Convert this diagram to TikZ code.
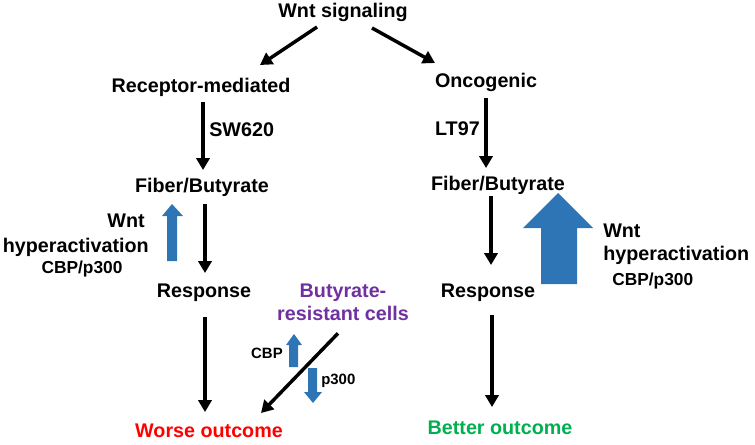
\documentclass[tikz,border=0pt]{standalone}
\usepackage{fontspec}
\setmainfont{Liberation Sans}
\usetikzlibrary{arrows.meta}
\definecolor{wblue}{RGB}{46,117,182}
\definecolor{wpurple}{RGB}{112,48,160}
\definecolor{wred}{RGB}{255,0,0}
\definecolor{wgreen}{RGB}{0,176,80}
\tikzset{
  lbl/.style={inner sep=0pt, font=\bfseries\fontsize{14.8}{17.25}\selectfont, anchor=base},
  small/.style={inner sep=0pt, font=\bfseries\fontsize{13}{15}\selectfont, anchor=base},
  tiny/.style={inner sep=0pt, font=\bfseries\fontsize{11.2}{13}\selectfont, anchor=base},
  arr/.style={line width=2.6pt, -{Triangle[width=10pt,length=9pt]}},
  bluearrow/.style={fill=wblue, draw=none}
}
\begin{document}
\begin{tikzpicture}[x=0.75pt,y=-0.75pt]
\useasboundingbox (0,0) rectangle (755,444);
% nodes
\node[lbl] (wnt) at (343,17) {Wnt signaling};
\node[lbl] (rec) at (201,92) {Receptor-mediated};
\node[lbl] (onc) at (486,87) {Oncogenic};
\node[lbl] (fbL) at (202,192) {Fiber/Butyrate};
\node[lbl] (fbR) at (498,190) {Fiber/Butyrate};
\node[lbl] (respL) at (204,297) {Response};
\node[lbl] (respR) at (488,297) {Response};
\node[lbl, text=wred] (worse) at (209,437) {Worse outcome};
\node[lbl, text=wgreen] (better) at (500,434) {Better outcome};
\node[lbl, anchor=base west] (sw) at (209,136) {SW620};
\node[lbl, anchor=base east] (lt) at (480,135) {LT97};
% left Wnt hyperactivation
\node[lbl, anchor=base east] (wntL) at (145,227) {Wnt};
\node[lbl, anchor=base east] (hypL) at (149,252) {hyperactivation};
\node[small] (cbpL) at (82,273) {CBP/p300};
% right Wnt hyperactivation
\node[lbl, anchor=base west] (wntR) at (603,237) {Wnt};
\node[lbl, anchor=base west] (hypR) at (603,260) {hyperactivation};
\node[small, anchor=base west] (cbpR) at (612,285) {CBP/p300};
% butyrate-resistant
\node[lbl, anchor=north, align=center, text=wpurple] (bres) at (343,284) {Butyrate-\\resistant cells};
\node[tiny, anchor=base east] (cbpS) at (283,358) {CBP};
\node[tiny, anchor=base west] (p300S) at (321,384) {p300};
% connectors
\draw[arr] ([shift={(-26,10)}]wnt.base) -- ([shift={(59,-27)}]rec.base);
\draw[arr] ([shift={(29,11)}]wnt.base) -- ([shift={(-51,-24)}]onc.base);
\draw[arr] ([shift={(2,10)}]rec.base) -- ([shift={(1,-22)}]fbL.base);
\draw[arr] ([shift={(3,12)}]fbL.base) -- ([shift={(1,-24)}]respL.base);
\draw[arr] ([shift={(1,20)}]respL.base) -- ([shift={(-4,-25)}]worse.base);
\draw[arr] ([shift={(0,11)}]onc.base) -- ([shift={(-12,-22)}]fbR.base);
\draw[arr] ([shift={(-7,6)}]fbR.base) -- ([shift={(3,-32)}]respR.base);
\draw[arr] ([shift={(4,18)}]respR.base) -- ([shift={(-8,-27)}]better.base);
\draw[arr] ([shift={(-5,12)}]bres.south) -- ([shift={(52,-24)}]worse.base);
% blue arrows
\fill[bluearrow] (172,204) -- (183,216) -- (177,216) -- (177,261) -- (167,261) -- (167,216) -- (162,216) -- cycle;
\fill[bluearrow] (558,193) -- (593,228) -- (577,228) -- (577,284) -- (541,284) -- (541,228) -- (523,228) -- cycle;
\fill[bluearrow] (294,334) -- (302,345) -- (298,345) -- (298,367) -- (289,367) -- (289,345) -- (286,345) -- cycle;
\fill[bluearrow] (313,403) -- (322,392) -- (317,392) -- (317,368) -- (308,368) -- (308,392) -- (304,392) -- cycle;
\end{tikzpicture}
\end{document}
